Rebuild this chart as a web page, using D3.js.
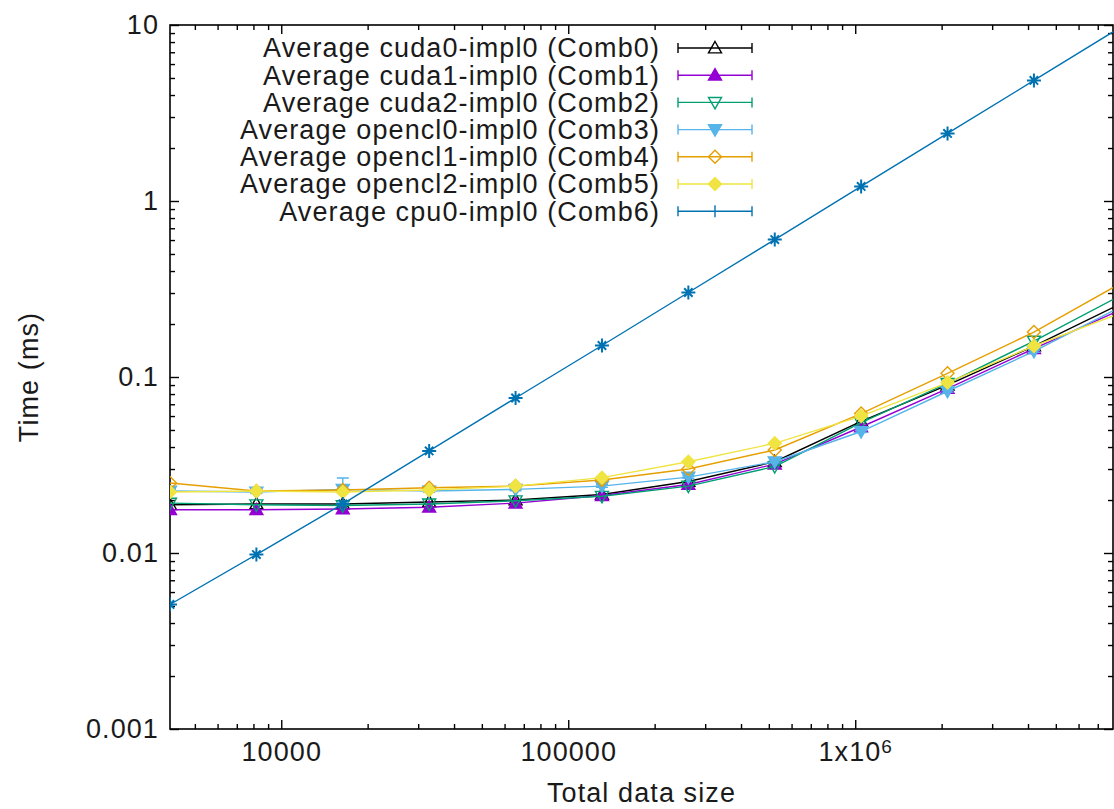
<!DOCTYPE html>
<html>
<head>
<meta charset="utf-8">
<script src="https://cdn.jsdelivr.net/npm/d3@7"></script>
<style>
  body { margin: 0; background: #fff; }
  text { font-family: "Liberation Sans", Arial, sans-serif; fill: #1a1a1a; }
</style>
</head>
<body>
<div id="chart-area"></div>
<script>
// data
const sizes = [4096, 8192, 16384, 32768, 65536, 131072, 262144, 524288, 1048576, 2097152, 4194304, 8388608];
const names = [
  "Average cuda0-impl0 (Comb0)",
  "Average cuda1-impl0 (Comb1)",
  "Average cuda2-impl0 (Comb2)",
  "Average opencl0-impl0 (Comb3)",
  "Average opencl1-impl0 (Comb4)",
  "Average opencl2-impl0 (Comb5)",
  "Average cpu0-impl0 (Comb6)"
];
const comb0 = [0.0188, 0.0190, 0.0190, 0.0195, 0.0200, 0.0215, 0.0255, 0.0330, 0.0560, 0.090, 0.150, 0.26];
const comb1 = [0.0176, 0.0176, 0.0178, 0.0182, 0.0192, 0.0212, 0.0245, 0.0320, 0.0520, 0.086, 0.145, 0.24];
const comb2 = [0.0192, 0.0188, 0.0186, 0.0190, 0.0198, 0.0210, 0.0240, 0.0310, 0.0550, 0.092, 0.160, 0.29];
const comb3 = [0.0225, 0.0222, 0.0230, 0.0225, 0.0230, 0.0240, 0.0270, 0.0330, 0.0490, 0.083, 0.140, 0.25];
const comb4 = [0.0250, 0.0225, 0.0228, 0.0235, 0.0240, 0.0260, 0.0300, 0.0385, 0.0620, 0.105, 0.180, 0.34];
const comb5 = [0.0222, 0.0225, 0.0222, 0.0228, 0.0240, 0.0268, 0.0330, 0.0420, 0.0600, 0.093, 0.150, 0.23];
const comb6 = [0.0051, 0.0098, 0.0190, 0.0380, 0.0760, 0.151, 0.302, 0.604, 1.21, 2.42, 4.84, 9.7];
const comb3Err = [0.0004, 0.0004, 0.0037, 0.0004, 0.0004, 0.0004, 0.0004, 0.0005, 0.0006, 0.001, 0.002, 0.003];
const xTickValues = [10000, 100000, 1000000];
const yTickValues = [0.001, 0.01, 0.1, 1, 10];

const colors = ["#000000", "#9400d3", "#009e73", "#56b4e9", "#e69f00", "#f0e442", "#0072b2"];
const markers = ["triUp", "triUpFill", "triDown", "triDownFill", "diamond", "diamondFill", "plus"];
const values = [comb0, comb1, comb2, comb3, comb4, comb5, comb6];

const series = names.map((name, i) => ({
  name,
  color: colors[i],
  marker: markers[i],
  points: sizes.map((s, j) => ({ x: s, y: values[i][j], e: i === 3 ? comb3Err[j] : 0 }))
}));

const margin = { left: 170, right: 1, top: 25, bottom: 80 };
const W = 1114, H = 809;
const width = W - margin.left - margin.right;
const height = H - margin.top - margin.bottom;
const font = "27px";
const spacing = "1.1px";

const svg = d3.select("#chart-area")
  .append("svg")
  .attr("width", W)
  .attr("height", H);

const g = svg.append("g")
  .attr("transform", `translate(${margin.left}, ${margin.top})`);

// log scales
const x = d3.scaleLog().domain([4096, 7.91e6]).range([0, width]);
const y = d3.scaleLog().domain([0.001, 10]).range([height, 0]);

// minor ticks 2..9 of every decade
function minors(lo, hi, dom) {
  const out = [];
  for (let p = lo; p <= hi; p++) {
    for (let k = 2; k <= 9; k++) {
      const v = k * Math.pow(10, p);
      if (v > dom[0] && v < dom[1]) out.push(v);
    }
  }
  return out;
}
const xMinor = minors(3, 6, x.domain());
const yMinor = minors(-3, 0, y.domain());

// minor ticks on all four sides
g.append("g").attr("transform", `translate(0, ${height})`)
  .call(d3.axisBottom(x).tickValues(xMinor).tickSize(-5).tickFormat(""));
g.append("g")
  .call(d3.axisTop(x).tickValues(xMinor).tickSize(-5).tickFormat(""));
g.append("g")
  .call(d3.axisLeft(y).tickValues(yMinor).tickSize(-5).tickFormat(""));
g.append("g").attr("transform", `translate(${width}, 0)`)
  .call(d3.axisRight(y).tickValues(yMinor).tickSize(-5).tickFormat(""));

// major ticks with labels
const xAxisGroup = g.append("g")
  .attr("class", "x-axis")
  .attr("transform", `translate(0, ${height})`)
  .call(d3.axisBottom(x).tickValues(xTickValues).tickSize(-9).tickPadding(13)
    .tickFormat(d => d >= 1e6 ? "1x10" : String(d)));
g.append("g")
  .call(d3.axisTop(x).tickValues(xTickValues).tickSize(-9).tickFormat(""));

const yAxisGroup = g.append("g")
  .attr("class", "y-axis")
  .call(d3.axisLeft(y).tickValues(yTickValues).tickSize(-9).tickPadding(11)
    .tickFormat(d => String(d)));
g.append("g").attr("transform", `translate(${width}, 0)`)
  .call(d3.axisRight(y).tickValues(yTickValues).tickSize(-9).tickFormat(""));

g.selectAll(".domain").remove();
g.selectAll(".tick line").attr("stroke", "#000").attr("stroke-width", 1.4);
g.selectAll(".x-axis text, .y-axis text")
  .attr("font-size", font)
  .attr("letter-spacing", spacing);

// superscript on 1x10^6
xAxisGroup.selectAll(".tick text")
  .filter(d => d >= 1e6)
  .append("tspan")
  .attr("dy", "-0.45em")
  .attr("font-size", "19px")
  .text("6");

// plot frame
g.append("rect")
  .attr("width", width)
  .attr("height", height)
  .attr("fill", "none")
  .attr("stroke", "#000")
  .attr("stroke-width", 1.6);

// axis titles
svg.append("text")
  .attr("x", margin.left + width / 2)
  .attr("y", 802)
  .attr("text-anchor", "middle")
  .attr("font-size", font)
  .attr("letter-spacing", spacing)
  .text("Total data size");

svg.append("text")
  .attr("transform", `translate(38, ${margin.top + height / 2}) rotate(-90)`)
  .attr("text-anchor", "middle")
  .attr("font-size", font)
  .attr("letter-spacing", spacing)
  .text("Time (ms)");

// clip to plot area
svg.append("defs").append("clipPath").attr("id", "plot-clip")
  .append("rect").attr("width", width).attr("height", height);

const plot = g.append("g").attr("clip-path", "url(#plot-clip)");

function markerPath(type, s) {
  const h = s / 2;
  switch (type) {
    case "triUp":
    case "triUpFill":
      return `M0,${-h}L${h},${h * 0.75}L${-h},${h * 0.75}Z`;
    case "triDown":
    case "triDownFill":
      return `M0,${h}L${h},${-h * 0.75}L${-h},${-h * 0.75}Z`;
    case "diamond":
    case "diamondFill":
      return `M0,${-h}L${h},0L0,${h}L${-h},0Z`;
    default:
      return `M${-h},0H${h}M0,${-h}V${h}M${-h * 0.6},${-h * 0.6}L${h * 0.6},${h * 0.6}M${-h * 0.6},${h * 0.6}L${h * 0.6},${-h * 0.6}`;
  }
}
const isFilled = t => t.endsWith("Fill");

const line = d3.line().x(d => x(d.x)).y(d => y(d.y));

series.forEach(s => {
  const sg = plot.append("g");
  sg.append("path")
    .datum(s.points)
    .attr("d", line)
    .attr("fill", "none")
    .attr("stroke", s.color)
    .attr("stroke-width", 1.4);

  // error bars
  sg.selectAll(".err")
    .data(s.points.filter(p => p.e > 0))
    .enter()
    .append("path")
    .attr("d", p => {
      const x0 = x(p.x), y1 = y(p.y + p.e), y2 = y(p.y - p.e);
      return `M${x0},${y1}V${y2}M${x0 - 6},${y1}H${x0 + 6}M${x0 - 6},${y2}H${x0 + 6}`;
    })
    .attr("fill", "none")
    .attr("stroke", s.color)
    .attr("stroke-width", 1.4);

  sg.selectAll(".pt")
    .data(s.points)
    .enter()
    .append("path")
    .attr("transform", p => `translate(${x(p.x)}, ${y(p.y)})`)
    .attr("d", markerPath(s.marker, s.marker === "plus" ? 14 : 13))
    .attr("fill", isFilled(s.marker) ? s.color : "none")
    .attr("stroke", s.color)
    .attr("stroke-width", s.marker === "plus" ? 2 : 1.4);
});

// legend
const legend = svg.append("g");
series.forEach((s, i) => {
  const cy = 48 + i * 27.2;
  legend.append("text")
    .attr("x", 660)
    .attr("y", cy)
    .attr("dy", "0.35em")
    .attr("text-anchor", "end")
    .attr("font-size", font)
    .attr("letter-spacing", spacing)
    .text(s.name);
  legend.append("path")
    .attr("d", `M678,${cy}H752M678,${cy - 5}V${cy + 5}M752,${cy - 5}V${cy + 5}`)
    .attr("fill", "none")
    .attr("stroke", s.color)
    .attr("stroke-width", 1.4);
  legend.append("path")
    .attr("transform", `translate(715, ${cy})`)
    .attr("d", s.marker === "plus" ? "M0,-6V6" : markerPath(s.marker, 13))
    .attr("fill", isFilled(s.marker) ? s.color : "none")
    .attr("stroke", s.color)
    .attr("stroke-width", 1.4);
});
</script>
</body>
</html>
